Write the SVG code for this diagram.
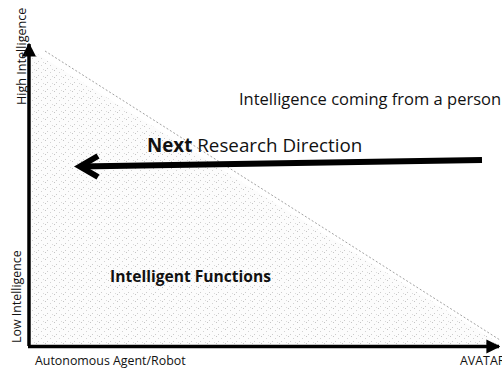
<svg xmlns="http://www.w3.org/2000/svg" width="502" height="369" viewBox="0 0 502 369">
  <style>
    .lbl { font-family: "Open Sans", "Liberation Sans", sans-serif; fill: #111; }
    .axis { stroke: #000; stroke-width: 3.5; fill: none; }
    .bold { font-weight: bold; }
  </style>
  <defs>
    <!-- sparse grey stipple used inside the triangle -->
    <pattern id="stipple" width="9" height="7" patternUnits="userSpaceOnUse">
      <rect width="9" height="7" fill="#fcfcfc"/>
      <rect x="0" y="0" width="1" height="1" fill="#c4c4c4"/>
      <rect x="5" y="2" width="1" height="1" fill="#d2d2d2"/>
      <rect x="2" y="5" width="1" height="1" fill="#cccccc"/>
      <rect x="7" y="6" width="1" height="1" fill="#dadada"/>
    </pattern>
    <marker id="axisHead" viewBox="0 0 10 10" refX="9" refY="5" markerWidth="4" markerHeight="4.4" orient="auto" markerUnits="strokeWidth">
      <path d="M0,0 L10,5 L0,10 Z" fill="#000"/>
    </marker>
  </defs>

  <rect width="502" height="369" fill="#fff"/>

  <!-- shaded region under the diagonal -->
  <g id="region">
    <polygon points="31,50 500,344 31,344" fill="url(#stipple)"/>
    <line x1="45" y1="51" x2="500" y2="340" stroke="#8a8a8a" stroke-width="0.8" stroke-dasharray="2 2"/>
  </g>

  <g id="connectors">
    <!-- vertical axis -->
    <line class="axis" x1="29" y1="346" x2="29" y2="44" marker-end="url(#axisHead)"/>
    <!-- horizontal axis -->
    <line class="axis" x1="28" y1="346.5" x2="499" y2="346.5" marker-end="url(#axisHead)"/>
    <!-- research direction arrow -->
    <line x1="482" y1="160" x2="80" y2="166.5" stroke="#000" stroke-width="6"/>
    <polyline points="98,156 80,166.5 98,177" fill="none" stroke="#000" stroke-width="6" stroke-linejoin="miter"/>
  </g>

  <g id="label-high">
    <text class="lbl" transform="translate(26,105) rotate(-90)" font-size="12.6">High Intelligence</text>
  </g>
  <g id="label-low">
    <text class="lbl" transform="translate(21,343) rotate(-90)" font-size="12.4">Low Intelligence</text>
  </g>
  <g id="label-agent">
    <text class="lbl" x="35" y="365" font-size="12.4">Autonomous Agent/Robot</text>
  </g>
  <g id="label-avatar">
    <text class="lbl" x="460" y="365" font-size="12.4">AVATAR</text>
  </g>
  <g id="label-person">
    <text class="lbl" x="239" y="105" font-size="16.5">Intelligence coming from a person</text>
  </g>
  <g id="label-direction">
    <text class="lbl" x="147" y="152" font-size="18.8"><tspan class="bold">Next</tspan> Research Direction</text>
  </g>
  <g id="label-functions">
    <text class="lbl bold" x="110" y="282" font-size="15.6">Intelligent Functions</text>
  </g>
</svg>
